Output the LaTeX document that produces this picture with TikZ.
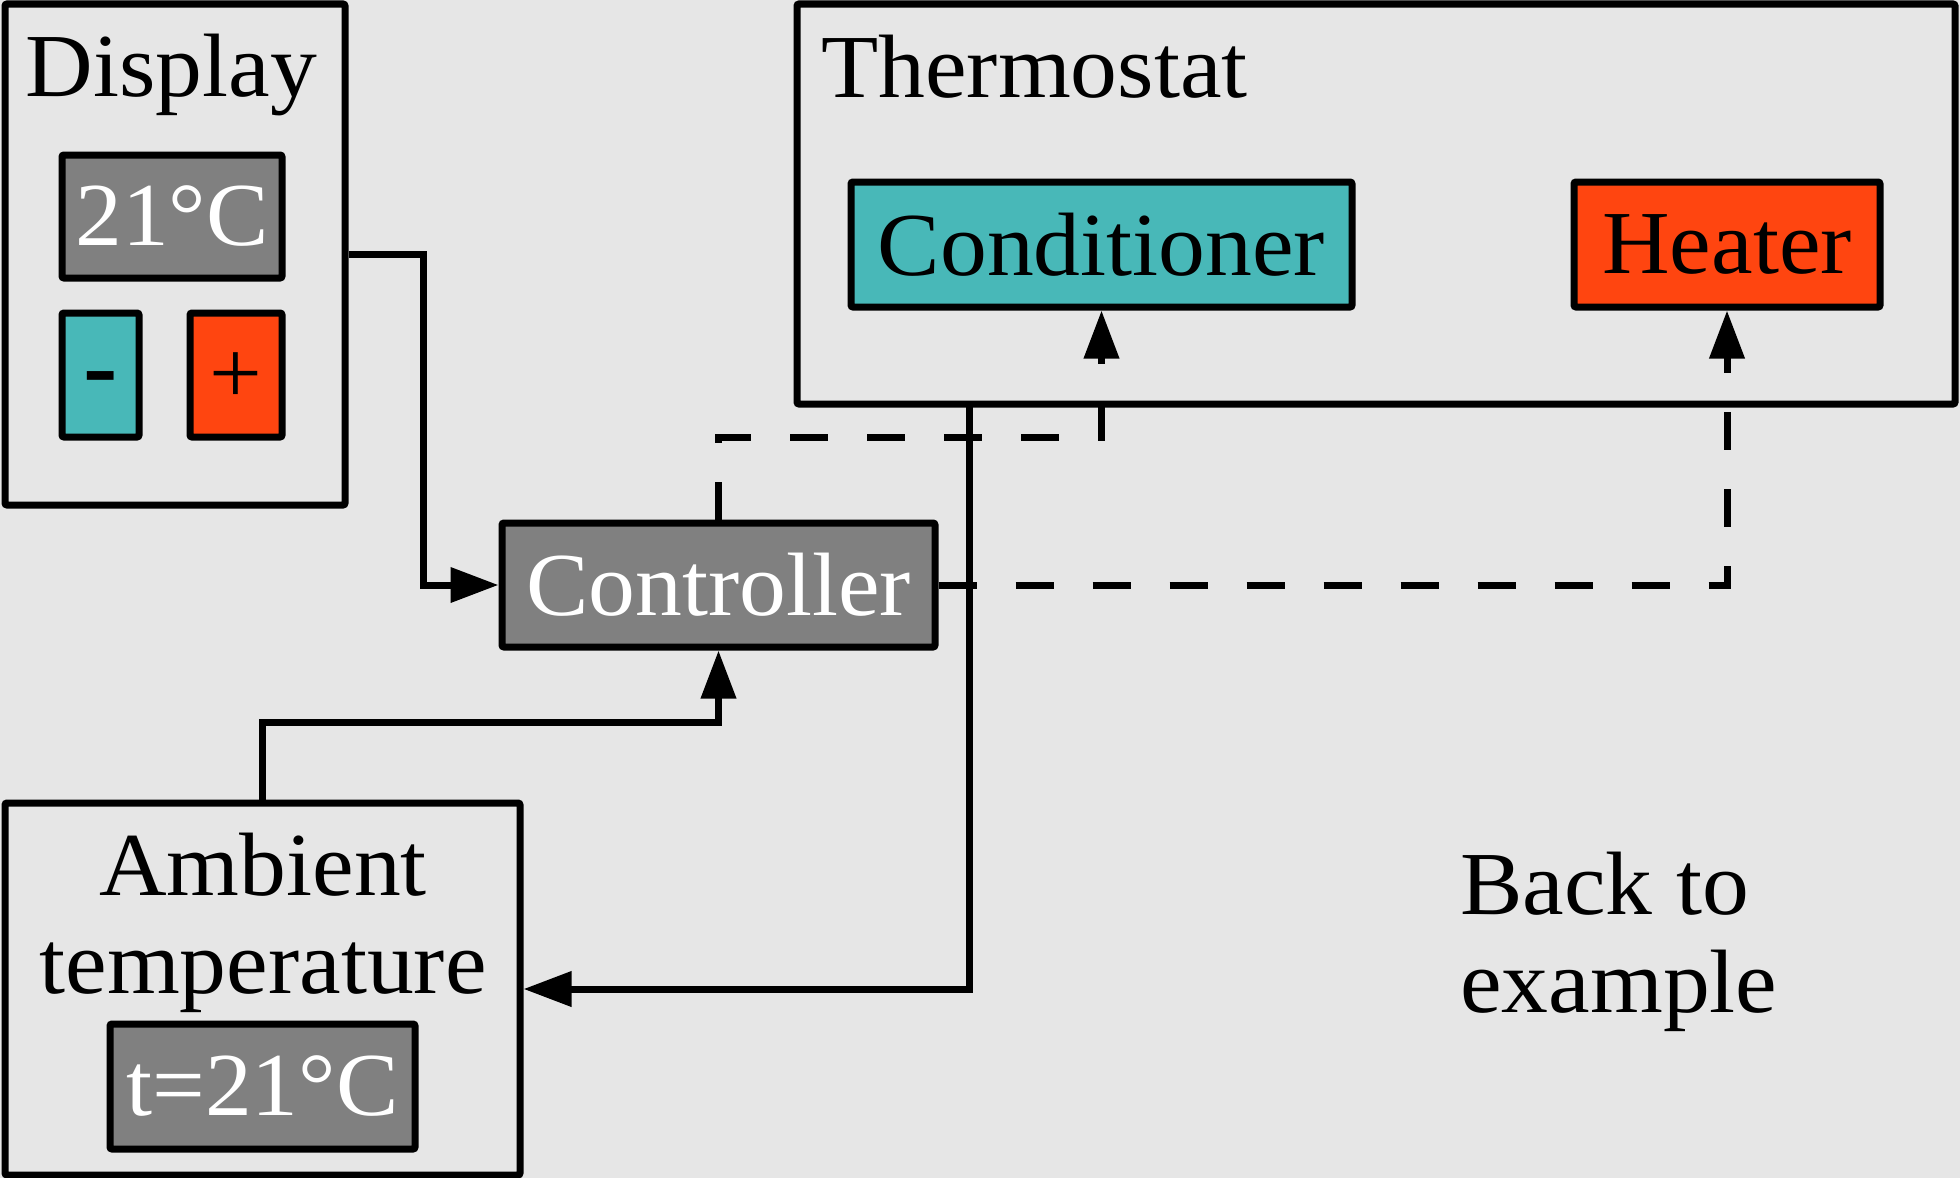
\documentclass[tikz,border=0pt]{standalone}
\usepackage{fontspec}
\setmainfont{Liberation Serif}[FakeStretch=1.04]
\usetikzlibrary{arrows.meta}
\definecolor{bgc}{HTML}{E6E6E6}
\definecolor{teal2}{HTML}{48B8B8}
\definecolor{orng}{HTML}{FF4510}
\definecolor{gry}{HTML}{808080}
\tikzset{
  box/.style={draw=black, line width=3.5pt, inner sep=0pt, rounded corners=1pt},
  wh/.style 2 args={minimum width=#1*0.5pt, minimum height=#2*0.5pt},
  txt/.style={font=\fontsize{45}{49}\selectfont, inner sep=0pt},
  conn/.style={line width=3.5pt, -{Triangle[length=24pt,width=17pt]}},
  dsh/.style={conn, dash pattern=on 19pt off 19.5pt},
}
\begin{document}
\begin{tikzpicture}[x=0.5pt,y=-0.5pt]
\path[fill=bgc] (0,0) rectangle (1960,1178);
\useasboundingbox (0,0) rectangle (1960,1178);

% Display
\node[box, fill=bgc, wh={340}{501}] (display) at (175,254.5) {};
\node[txt, anchor=base] (displaytitle) at (171.5,96) {Display};
\node[box, fill=gry, wh={220}{123}, txt, text=white] (temp) at (172,216.5) {21°C};
\node[box, fill=teal2, wh={77}{124}, txt] (minus) at (100.5,375) {\smash{\raisebox{-14pt}{\scalebox{1.1}[1.3]{-}}}};
\node[box, fill=orng, wh={92}{124}, txt] (plus) at (236,375) {\smash{\raisebox{-14pt}{+}}};

% Thermostat
\node[box, fill=bgc, wh={1158}{400}] (thermo) at (1376,204) {};
\node[txt, anchor=base west] (thermotitle) at (821,97) {Thermostat};
\node[box, fill=teal2, wh={501}{125}, txt] (cond) at (1101.5,244.5) {Conditioner};
\node[box, fill=orng, wh={306}{125}, txt] (heater) at (1727,244.5) {Heater};

% Controller
\node[box, fill=gry, wh={433}{124}, txt, text=white] (ctrl) at (718.5,585) {Controller};

% Ambient
\node[box, fill=bgc, wh={515}{372}] (ambient) at (262.5,989) {};
\node[txt, anchor=base] (amb1) at (263,895) {Ambient};
\node[txt, anchor=base] (amb2) at (263,993) {temperature};
\node[box, fill=gry, wh={305}{125}, txt, text=white] (tval) at (262.5,1086.5) {t=21°C};

% Back to example
\node[txt, anchor=base west] (back1) at (1460,914) {Back to};
\node[txt, anchor=base west] (back2) at (1460,1012) {example};

% connectors
\coordinate (d1) at (423,254.5);
\draw[conn] (display.east) -- (d1) |- (ctrl.west);
\coordinate (a1) at (262.5,722);
\draw[conn] (ambient.north) -- (a1) -| (ctrl.south);
\coordinate (t1) at (969,404);
\draw[conn] (t1) |- (ambient.east);
\coordinate (c1) at (718.5,437);
\draw[dsh] (ctrl.north) -- (c1) -| (cond.south);
\draw[dsh] (ctrl.east) -| (heater.south);
\end{tikzpicture}
\end{document}
